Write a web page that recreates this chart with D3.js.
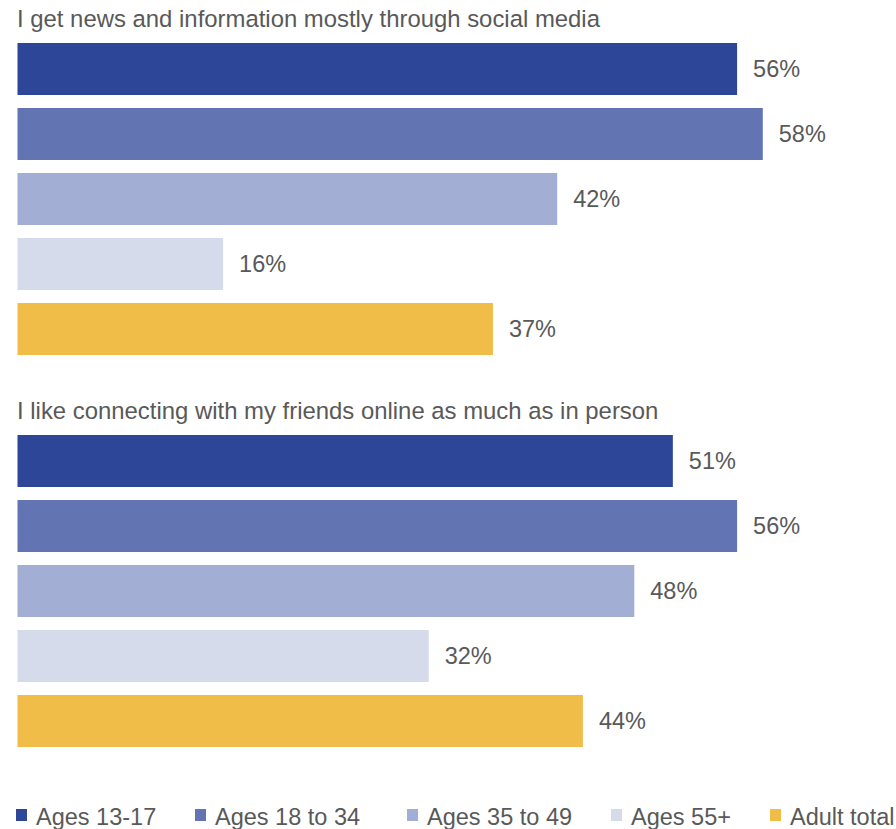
<!DOCTYPE html>
<html>
<head>
<meta charset="utf-8">
<script src="https://cdn.jsdelivr.net/npm/d3@7"></script>
<style>
  body { margin: 0; background: #fff; }
  svg { display: block; font-family: "Liberation Sans", Arial, sans-serif; }
</style>
</head>
<body>
<svg id="chart" width="896" height="829"></svg>
<script>
// données
const questions = [
    'I get news and information mostly through social media',
    'I like connecting with my friends online as much as in person'
];
const groups = ['Ages 13-17', 'Ages 18 to 34', 'Ages 35 to 49', 'Ages 55+', 'Adult total'];
const newsValues = [56, 58, 42, 16, 37];
const friendsValues = [51, 56, 48, 32, 44];
const colors = ['#2e4698', '#6374b3', '#a3aed4', '#d6dbec', '#f0bd48'];

const svg = d3.select('#chart');
const textColor = '#595959';

const x = d3.scaleLinear()
            .domain([0, 100])
            .range([17.5, 1302.5]);

const y = d3.scaleBand()
            .domain(groups)
            .range([36.5, 361.5])
            .paddingInner(0.2)
            .paddingOuter(0.1);

const color = d3.scaleOrdinal().domain(groups).range(colors);

const panels = [
    { title: questions[0], values: newsValues, offset: 0 },
    { title: questions[1], values: friendsValues, offset: 392 }
];

panels.forEach(p => {
    const g = svg.append('g').attr('transform', `translate(0,${p.offset})`);

    g.append('text')
     .attr('x', 17)
     .attr('y', 27)
     .attr('font-size', 23.9)
     .attr('fill', textColor)
     .text(p.title);

    const data = groups.map((k, i) => ({ key: k, value: p.values[i] }));

    g.selectAll('rect')
     .data(data)
     .join('rect')
     .attr('x', x(0))
     .attr('y', d => y(d.key))
     .attr('width', d => x(d.value) - x(0))
     .attr('height', y.bandwidth())
     .attr('fill', d => color(d.key));

    g.selectAll('text.val')
     .data(data)
     .join('text')
     .attr('class', 'val')
     .attr('x', d => x(d.value) + 16)
     .attr('y', d => y(d.key) + y.bandwidth() / 2)
     .attr('dy', '0.35em')
     .attr('font-size', 23.5)
     .attr('fill', textColor)
     .text(d => d.value + '%');
});

// légende
const legendX = [16, 195, 407, 611, 770];
const legend = svg.append('g').attr('transform', 'translate(0,809)');
groups.forEach((k, i) => {
    legend.append('rect')
          .attr('x', legendX[i])
          .attr('y', 0)
          .attr('width', 11)
          .attr('height', 12)
          .attr('fill', color(k));
    legend.append('text')
          .attr('x', legendX[i] + 20)
          .attr('y', 16)
          .attr('font-size', 23.5)
          .attr('fill', textColor)
          .text(k);
});
</script>
</body>
</html>
